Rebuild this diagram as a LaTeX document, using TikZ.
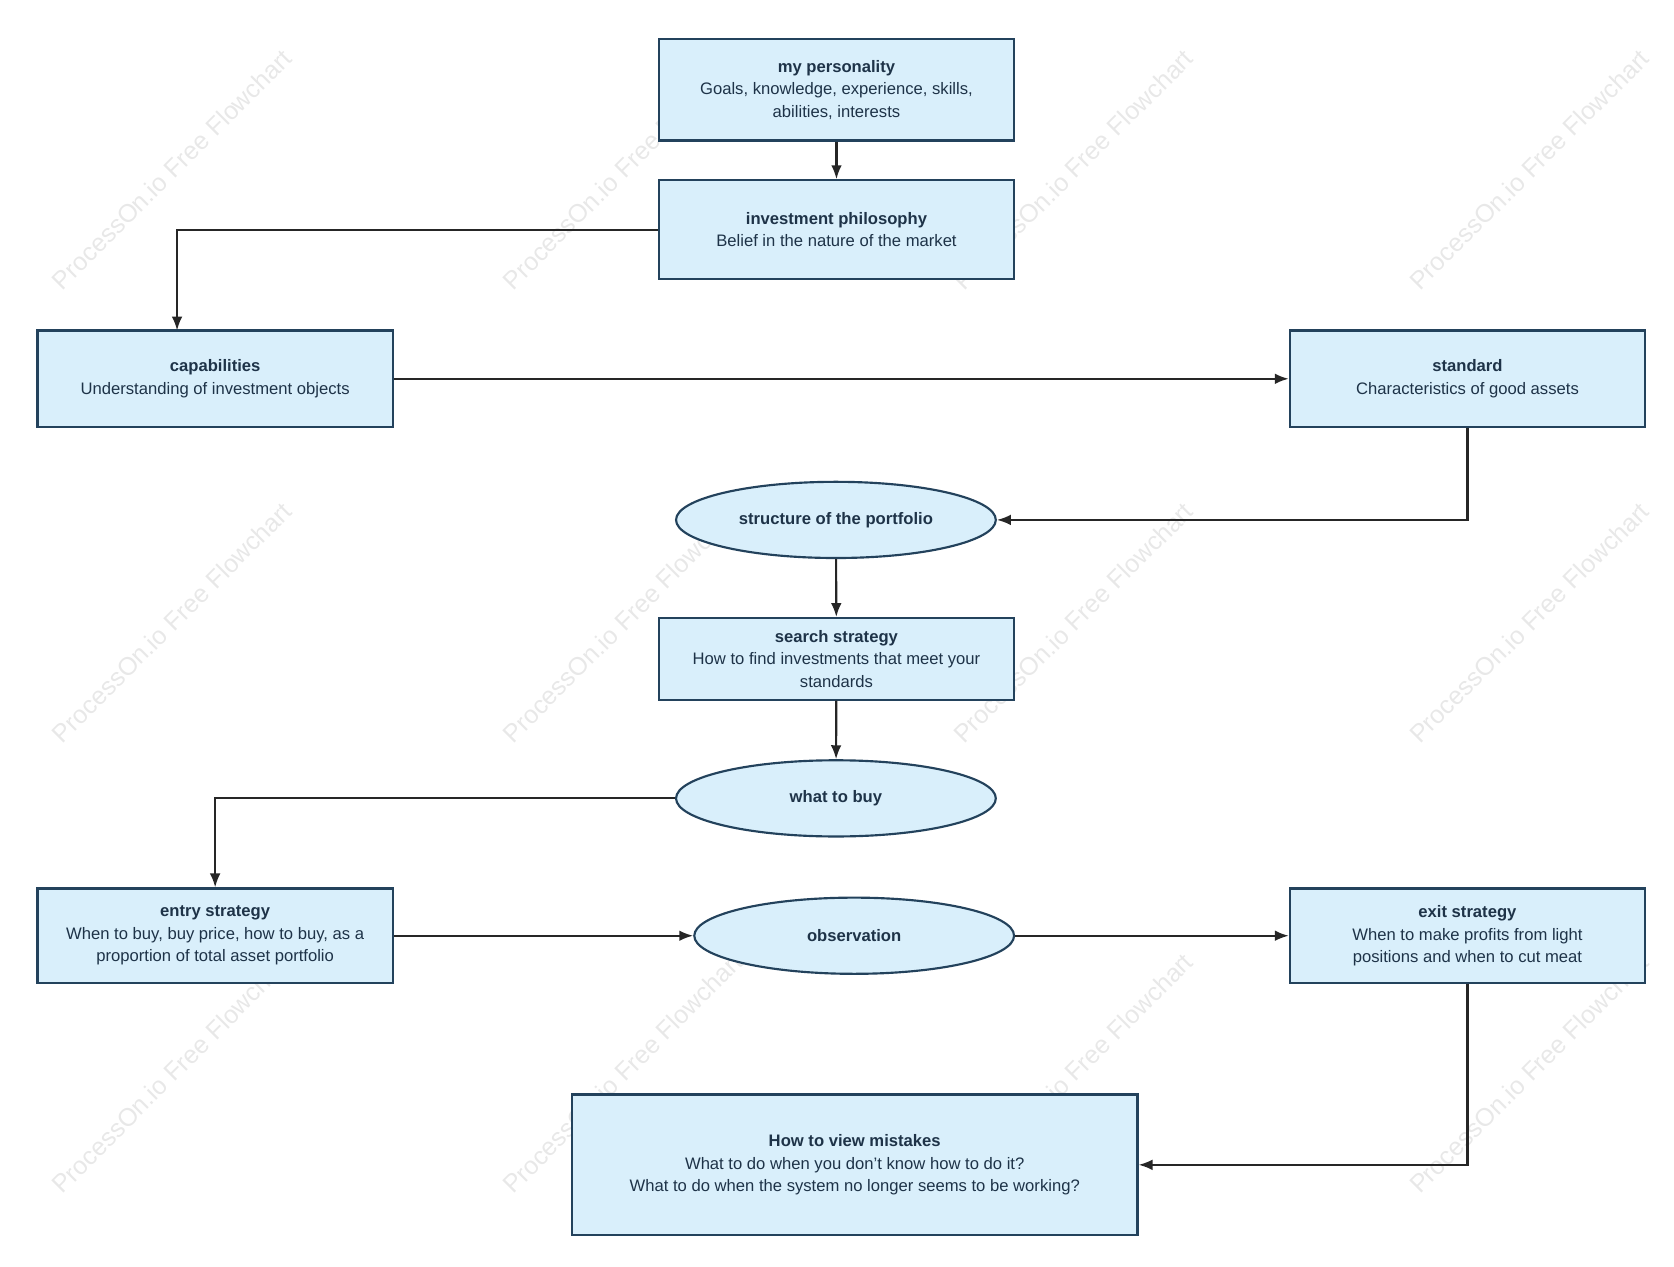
\documentclass[tikz,border=0pt]{standalone}
\usepackage{fontspec}
\setmainfont{Liberation Sans}
\usetikzlibrary{arrows.meta,shapes.geometric}
\definecolor{boxfill}{HTML}{D9EFFB}
\definecolor{boxline}{HTML}{23425C}
\definecolor{txt}{HTML}{1E3348}
\tikzset{
  box/.style={draw=boxline,fill=boxfill,line width=2pt,text=txt,align=center,inner sep=0pt,
    font=\fontsize{15.5}{21}\selectfont},
  oval/.style={box,ellipse,minimum width=298pt,minimum height=71pt},
  link/.style={draw=black!85,line width=2pt,-{Latex[length=13pt,width=10pt]}},
  watermark/.style={text=black!9,rotate=45,font=\fontsize{23.5}{23.5}\selectfont}
}
\begin{document}
\begin{tikzpicture}[x=1pt,y=-1pt]
  \useasboundingbox (0,0) rectangle (1560,1180);
  % watermarks
  \foreach \wx in {160,580,1000,1425}
    \foreach \wy in {158,580,1000}
      \node[watermark] (wm-\wx-\wy) at (\wx,\wy) {ProcessOn.io Free Flowchart};
  % boxes
  \node[box,minimum width=331pt,minimum height=95pt] (personality) at (779.5,83.5)
    {\textbf{my personality}\\Goals, knowledge, experience, skills,\\abilities, interests};
  \node[box,minimum width=331pt,minimum height=92pt] (philosophy) at (779.5,214)
    {\textbf{investment philosophy}\\Belief in the nature of the market};
  \node[box,minimum width=331pt,minimum height=90pt] (capabilities) at (200.5,353)
    {\textbf{capabilities}\\Understanding of investment objects};
  \node[box,minimum width=331pt,minimum height=90pt] (standard) at (1367.5,353)
    {\textbf{standard}\\Characteristics of good assets};
  \node[oval] (structure) at (779,484.5) {\textbf{structure of the portfolio}};
  \node[box,minimum width=331pt,minimum height=76pt] (search) at (779.5,614)
    {\textbf{search strategy}\\How to find investments that meet your\\standards};
  \node[oval] (whatbuy) at (779,744) {\textbf{what to buy}};
  \node[box,minimum width=331pt,minimum height=88pt] (entry) at (200.5,872)
    {\textbf{entry strategy}\\When to buy, buy price, how to buy, as a\\proportion of total asset portfolio};
  \node[oval] (observation) at (796,872) {\textbf{observation}};
  \node[box,minimum width=331pt,minimum height=88pt] (exit) at (1367.5,872)
    {\textbf{exit strategy}\\When to make profits from light\\positions and when to cut meat};
  \node[box,minimum width=527pt,minimum height=131pt] (mistakes) at (796.5,1085.5)
    {\textbf{How to view mistakes}\\What to do when you don't know how to do it?\\What to do when the system no longer seems to be working?};
  % connectors
  \coordinate (capin) at (165,308);
  \draw[link] (personality) -- (philosophy);
  \draw[link] (philosophy.west) -| (capin);
  \draw[link] (capabilities) -- (standard);
  \draw[link] (standard.south) |- (structure.east);
  \draw[link] (structure) -- (search);
  \draw[link] (search) -- (whatbuy);
  \draw[link] (whatbuy.west) -| (entry.north);
  \draw[link] (entry) -- (observation);
  \draw[link] (observation) -- (exit);
  \draw[link] (exit.south) |- (mistakes.east);
\end{tikzpicture}
\end{document}
